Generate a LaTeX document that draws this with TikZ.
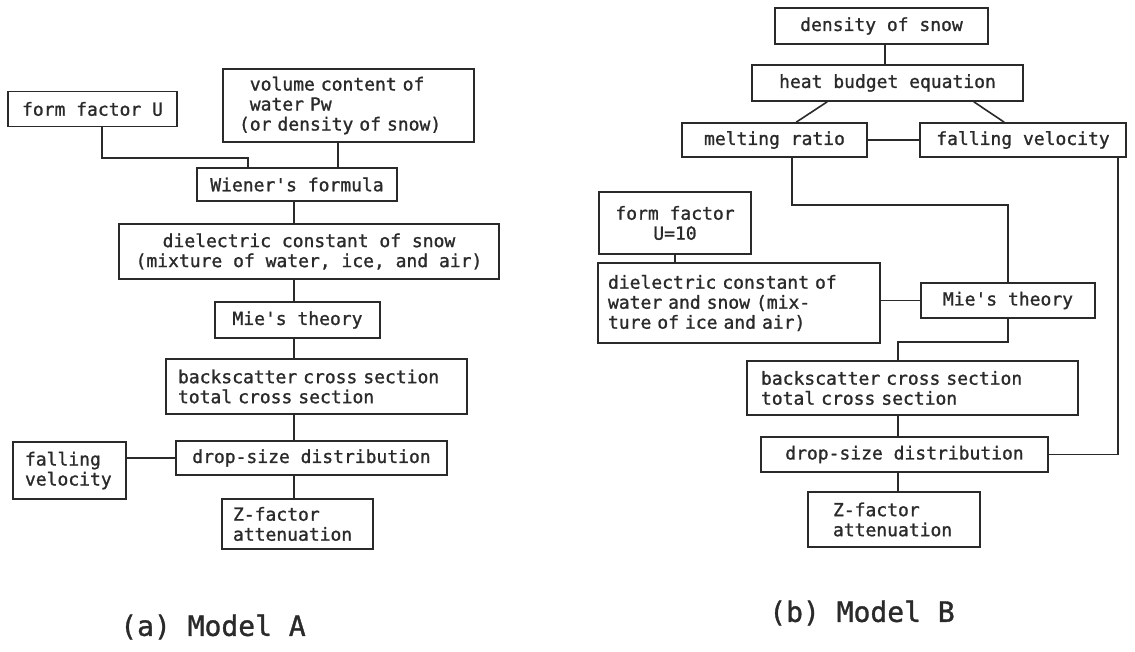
\documentclass[tikz,border=0pt]{standalone}
\usepackage{fontspec}
\setmonofont{DejaVu Sans Mono}[FakeBold=1.2, WordSpace={1,0,0}]
\usetikzlibrary{calc}
\definecolor{ink}{HTML}{2A2A2A}
\newcommand\boxfont{\ttfamily\fontsize{18}{20}\selectfont}
\newcommand\capfont{\ttfamily\fontsize{28}{30}\selectfont}
\begin{document}
\begin{tikzpicture}[x=1pt,y=-1pt,
  box/.style={draw=ink, line width=1.6pt, inner sep=0pt, font=\boxfont, text=ink, align=center},
  lbox/.style={box, align=left},
  wire/.style={draw=ink, line width=1.6pt},
  captxt/.style={font=\capfont, text=ink, inner sep=0pt}]
\useasboundingbox (0,0) rectangle (1135,652);
% ---------------- Model A ----------------
\node[box, minimum width=169pt, minimum height=35pt] (fU) at (92.5,109) {form factor U};
\node[lbox, text width=219pt, inner xsep=16pt, minimum height=73pt] (vol) at (348.5,105.5)
  {\phantom{(}volume content of\\\phantom{(}water Pw\\(or density of snow)};
\node[box, minimum width=200pt, minimum height=33pt] (wien) at (297,184.5) {Wiener's formula};
\node[box, minimum width=380pt, minimum height=55pt] (dielA) at (309,251.5)
  {dielectric constant of snow\\(mixture of water, ice, and air)};
\node[box, minimum width=165pt, minimum height=36pt] (mieA) at (297.5,320) {Mie's theory};
\node[lbox, text width=277pt, inner xsep=12pt, minimum height=55pt] (bsA) at (316.5,386.5)
  {backscatter cross section\\total cross section};
\node[box, minimum width=271pt, minimum height=34pt] (dsA) at (311.5,458) {drop-size distribution};
\node[lbox, text width=89pt, inner xsep=12pt, minimum height=57pt] (fvA) at (69.5,470.5)
  {falling\\velocity};
\node[lbox, text width=129pt, inner xsep=11pt, minimum height=50pt] (zA) at (297.5,524)
  {Z-factor\\attenuation};
\node[captxt] (capA) at (213,627) {(a) Model A};
% connectors A
\coordinate (fUbend) at (248,158);
\coordinate (vw) at (338,0);
\coordinate (sA) at (294,0);
\draw[wire] ([xshift=9.5pt]fU.south) |- (fUbend) -- (fUbend |- wien.north);
\draw[wire] (vw |- vol.south) -- (vw |- wien.north);
\draw[wire] (sA |- wien.south) -- (sA |- dielA.north);
\draw[wire] (sA |- dielA.south) -- (sA |- mieA.north);
\draw[wire] (sA |- mieA.south) -- (sA |- bsA.north);
\draw[wire] (sA |- bsA.south) -- (sA |- dsA.north);
\draw[wire] (sA |- dsA.south) -- (sA |- zA.north);
\draw[wire] (dsA.west) -- (dsA.west -| fvA.east);
% ---------------- Model B ----------------
\node[box, minimum width=213pt, minimum height=36pt] (dens) at (881.5,26) {density of snow};
\node[box, minimum width=271pt, minimum height=36pt] (heat) at (887.5,83) {heat budget equation};
\node[box, minimum width=185pt, minimum height=34pt] (melt) at (774.5,140) {melting ratio};
\node[box, minimum width=206pt, minimum height=34pt] (fvB) at (1023,140) {falling velocity};
\node[box, minimum width=152pt, minimum height=62pt] (fUB) at (675,223) {form factor\\U=10};
\node[lbox, text width=262pt, inner xsep=10pt, minimum height=80pt] (dielB) at (739,303)
  {dielectric constant of\\water and snow (mix-\\ture of ice and air)};
\node[box, minimum width=174pt, minimum height=35pt] (mieB) at (1008,300.5) {Mie's theory};
\node[lbox, text width=303pt, inner xsep=14pt, minimum height=54pt] (bsB) at (912.5,388)
  {backscatter cross section\\total cross section};
\node[box, minimum width=287pt, minimum height=35pt] (dsB) at (904.5,454.5) {drop-size distribution};
\node[lbox, text width=122pt, inner xsep=25pt, minimum height=55pt] (zB) at (894,519.5)
  {Z-factor\\attenuation};
\node[captxt] (capB) at (862,613) {(b) Model B};
% connectors B
\coordinate (dx) at (885,0);
\coordinate (mb) at (1008,205);
\coordinate (mbs) at (898,342);
\coordinate (fvx) at (1118,0);
\draw[wire] (dx |- dens.south) -- (dx |- heat.north);
\draw[wire] ([xshift=76pt]heat.south west) -- ([xshift=115pt]melt.north west);
\draw[wire] ([xshift=-50pt]heat.south east) -- ([xshift=85pt]fvB.north west);
\draw[wire] (melt.east) -- (fvB.west);
\draw[wire] ([xshift=17.5pt]melt.south) |- (mb) -- (mb |- mieB.north);
\draw[wire] (fUB.south) -- (fUB.south |- dielB.north);
\draw[wire] (mieB.west) -- (mieB.west -| dielB.east);
\draw[wire] (mieB.south) |- (mbs) -- (mbs |- bsB.north);
\draw[wire] (mbs |- bsB.south) -- (mbs |- dsB.north);
\draw[wire] (mbs |- dsB.south) -- (mbs |- zB.north);
\draw[wire] (fvx |- fvB.south) |- (dsB.east);
\end{tikzpicture}
\end{document}
